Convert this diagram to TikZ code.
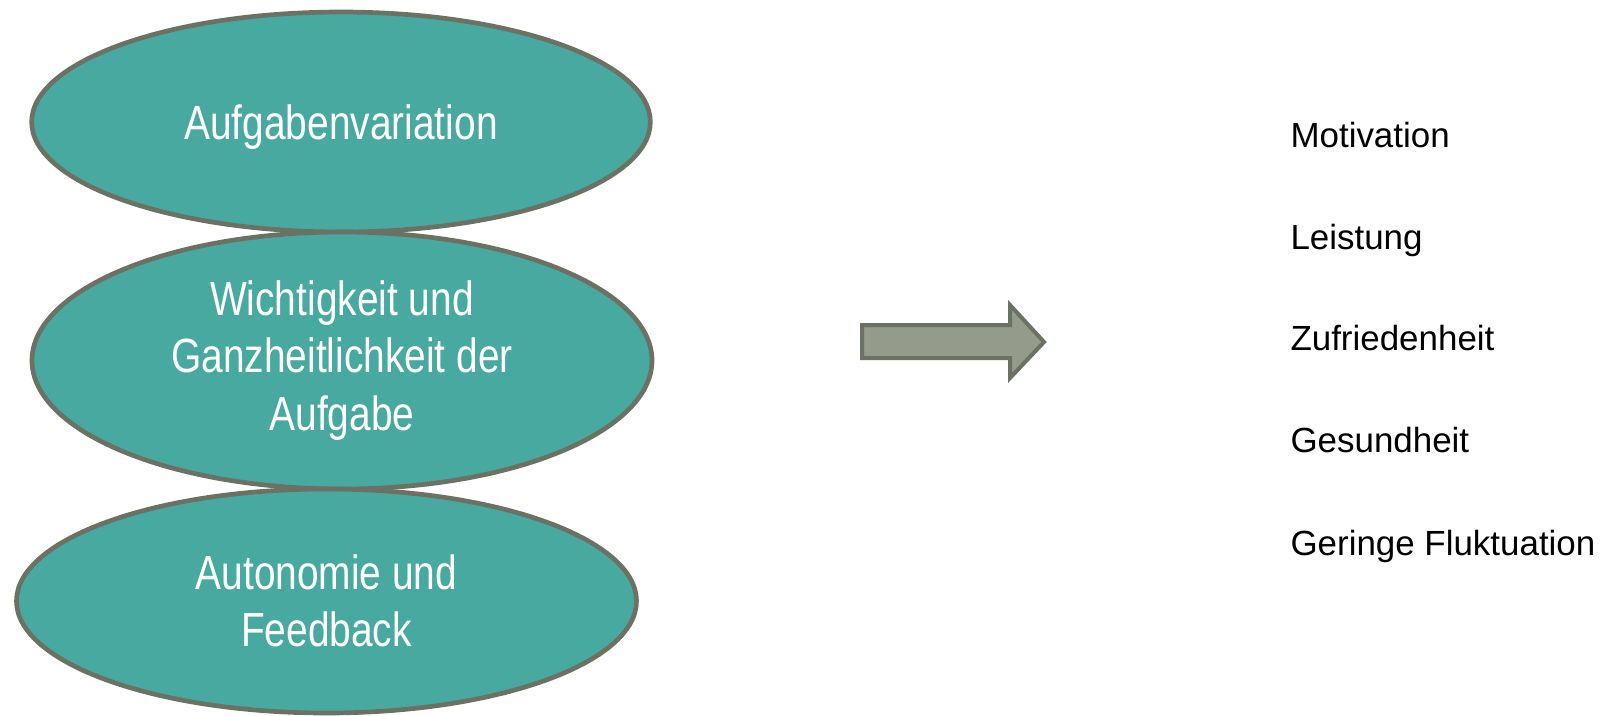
\documentclass[tikz,border=0pt]{standalone}
\usepackage{fontspec}
\setmainfont{Liberation Sans}
\newfontfamily\schmalfont[FakeStretch=0.81]{Liberation Sans}
\usetikzlibrary{shapes.geometric}

\definecolor{tuerkis}{RGB}{71,169,160}
\definecolor{randgrau}{RGB}{107,114,100}
\definecolor{pfeilgrau}{RGB}{148,155,139}

\tikzset{every picture/.style={line width=0.75pt}}
\tikzset{
  oval/.style={ellipse, draw=randgrau, fill=tuerkis, line width=3.5pt, text=white,
    align=center, inner sep=0pt, font=\schmalfont\fontsize{36}{43}\selectfont},
  wirkung/.style={anchor=base west, inner sep=0pt, font=\fontsize{26.2}{32}\selectfont},
  blockpfeil/.style={draw=randgrau, fill=pfeilgrau, line width=3pt, line join=miter}
}

\begin{document}
\begin{tikzpicture}[x=0.75pt,y=0.75pt,yscale=-1,xscale=1]
	\path[use as bounding box] (0,0) rectangle (1601,715);

	%Shape: Ellipse [id:aufgaben]
	\node[oval, minimum width=464pt, minimum height=165pt, text depth=0pt] (aufgabe) at (341,122) {Aufgabenvariation};
	%Shape: Ellipse [id:wichtig]
	\node[oval, minimum width=465pt, minimum height=192.75pt] (wichtig) at (342,360.5) {Wichtigkeit und\\Ganzheitlichkeit der\\Aufgabe};
	%Shape: Ellipse [id:autonomie]
	\node[oval, minimum width=465pt, minimum height=168pt] (autonomie) at (326.5,601) {Autonomie und\\Feedback};

	%Right Arrow [id:pfeil]
	\draw[blockpfeil] (862,325) -- (1010,325) -- (1010,305) -- (1044,342) -- (1010,378) -- (1010,358) -- (862,358) -- cycle ;

	% Text Node
	\node[wirkung] (motivation) at (1290,147) {Motivation};
	% Text Node
	\node[wirkung] (leistung) at (1290,249) {Leistung};
	% Text Node
	\node[wirkung] (zufrieden) at (1290,350) {Zufriedenheit};
	% Text Node
	\node[wirkung] (gesund) at (1290,452) {Gesundheit};
	% Text Node
	\node[wirkung] (fluktuation) at (1290,555) {Geringe Fluktuation};

\end{tikzpicture}
\end{document}
